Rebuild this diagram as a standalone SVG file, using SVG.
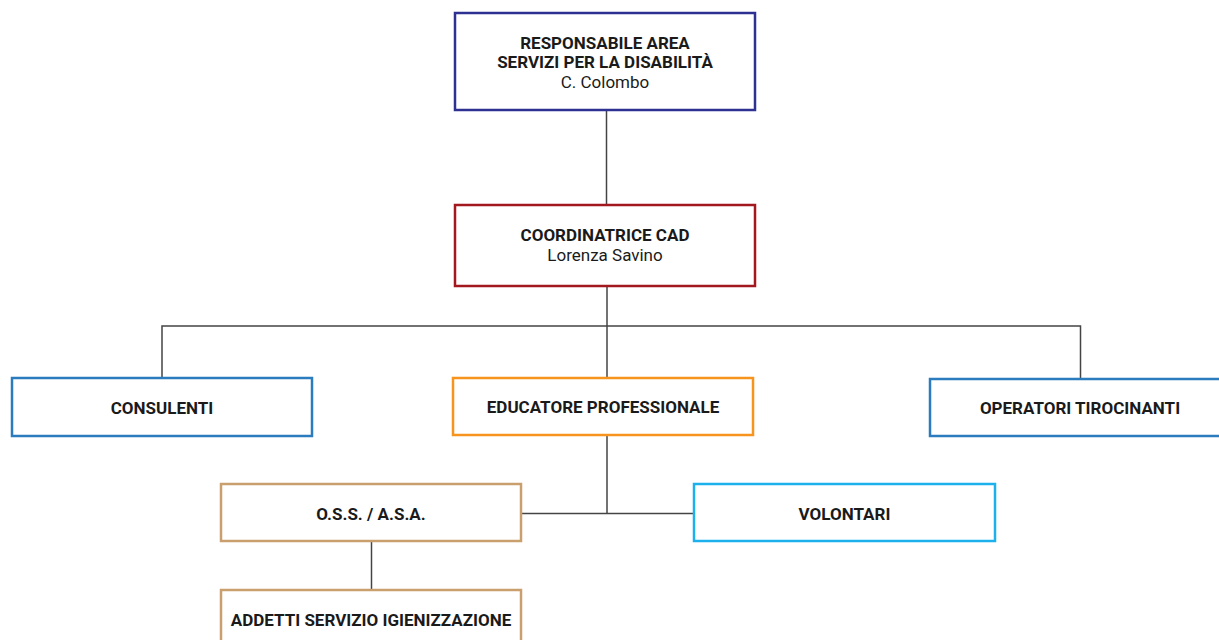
<svg xmlns="http://www.w3.org/2000/svg" width="1219" height="640" viewBox="0 0 1219 640">
<style>
.box{fill:#fff;stroke-width:2.5}
.t{font-family:Roboto,"Liberation Sans",sans-serif;font-size:17px;fill:#1a1a1a;text-anchor:middle}
.b{font-weight:bold}
.conn{fill:none;stroke:#444;stroke-width:1.5}
</style>
<rect width="1219" height="640" fill="#fff"/>
<g id="connectors" class="conn">
<path d="M606.5 110V205"/>
<path d="M607 286V378"/>
<path d="M162 378V326H1080.5V379"/>
<path d="M607 435V513.5"/>
<path d="M522 513.5H694"/>
<path d="M371.5 541V590"/>
</g>
<g id="responsabile">
<rect class="box" x="455" y="13" width="300" height="97" stroke="#2e3192"/>
<text class="t b" x="605" y="48.5">RESPONSABILE AREA</text>
<text class="t b" x="605" y="68">SERVIZI PER LA DISABILITÀ</text>
<text class="t" x="605" y="88">C. Colombo</text>
</g>
<g id="coordinatrice">
<rect class="box" x="455" y="205" width="300" height="81" stroke="#a3171e"/>
<text class="t b" x="605" y="240.5">COORDINATRICE CAD</text>
<text class="t" x="605" y="260.5">Lorenza Savino</text>
</g>
<g id="consulenti">
<rect class="box" x="12" y="378" width="300" height="58" stroke="#2b7bbf"/>
<text class="t b" x="162" y="414">CONSULENTI</text>
</g>
<g id="educatore">
<rect class="box" x="453" y="378" width="300" height="57" stroke="#f7941d"/>
<text class="t b" x="603" y="413">EDUCATORE PROFESSIONALE</text>
</g>
<g id="operatori">
<rect class="box" x="930" y="379" width="300" height="57" stroke="#2b7bbf"/>
<text class="t b" x="1080" y="414">OPERATORI TIROCINANTI</text>
</g>
<g id="oss">
<rect class="box" x="221" y="484" width="300" height="57" stroke="#c9a06d"/>
<text class="t b" x="371" y="520">O.S.S. / A.S.A.</text>
</g>
<g id="volontari">
<rect class="box" x="694" y="484" width="301" height="57" stroke="#1cb1ec"/>
<text class="t b" x="844.5" y="520">VOLONTARI</text>
</g>
<g id="addetti">
<rect class="box" x="221" y="590" width="300" height="57" stroke="#c9a06d"/>
<text class="t b" x="371" y="625.5">ADDETTI SERVIZIO IGIENIZZAZIONE</text>
</g>
</svg>
